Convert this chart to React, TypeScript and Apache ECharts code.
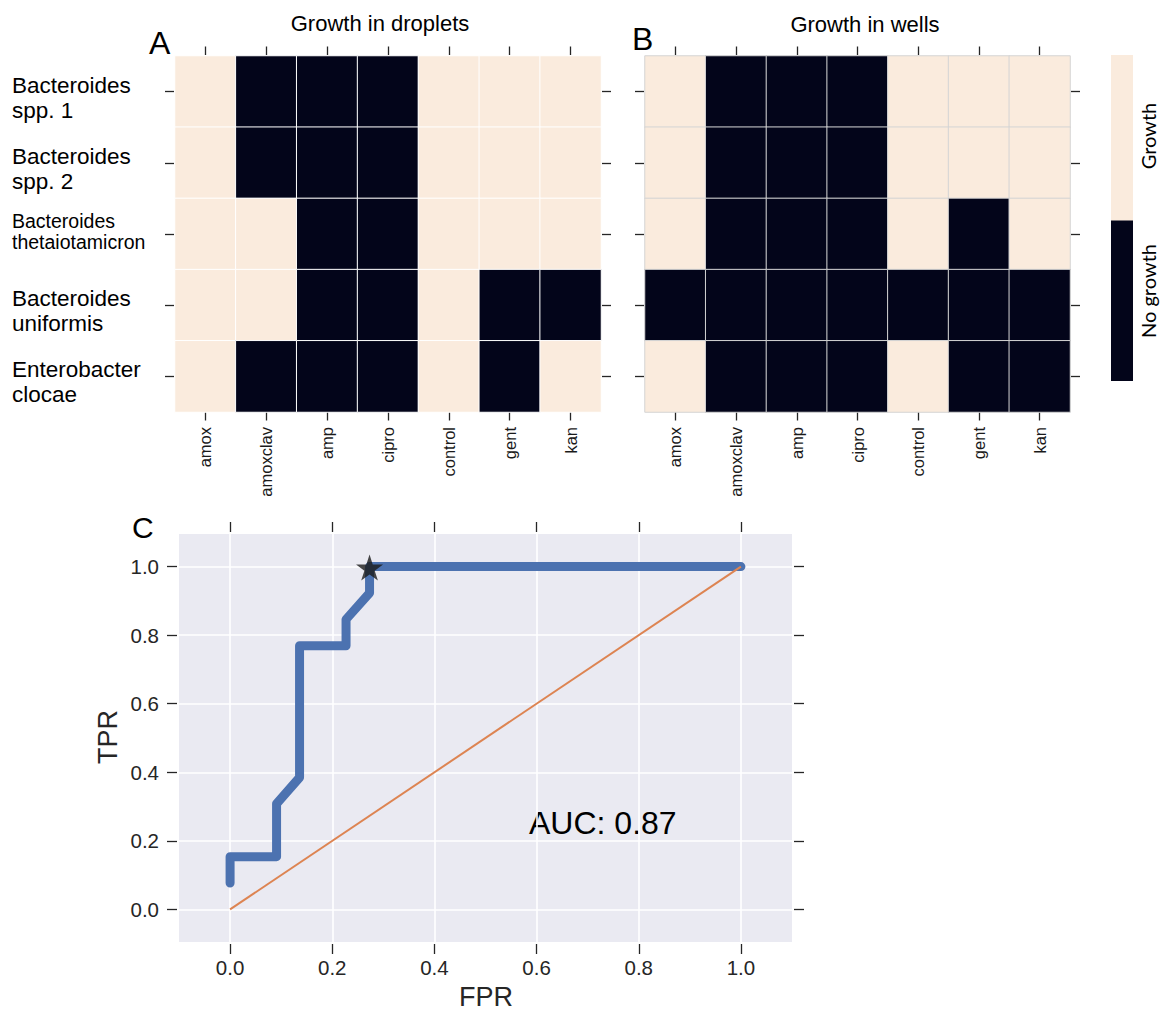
import React, { useEffect, useRef } from 'react';
import * as echarts from 'echarts';

// ---------------- data ----------------
const antibiotics = ['amox', 'amoxclav', 'amp', 'cipro', 'control', 'gent', 'kan'];
const speciesNames = [
  'Bacteroides\nspp. 1',
  'Bacteroides\nspp. 2',
  'Bacteroides\nthetaiotamicron',
  'Bacteroides\nuniformis',
  'Enterobacter\nclocae',
];
const speciesSmallLabel = [false, false, true, false, false];
// 1 = growth, 0 = no growth ; rows follow speciesNames, columns follow antibiotics
const dropletGrowth = [
  [1, 0, 0, 0, 1, 1, 1],
  [1, 0, 0, 0, 1, 1, 1],
  [1, 1, 0, 0, 1, 1, 1],
  [1, 1, 0, 0, 1, 0, 0],
  [1, 0, 0, 0, 1, 0, 1],
];
const wellGrowth = [
  [1, 0, 0, 0, 1, 1, 1],
  [1, 0, 0, 0, 1, 1, 1],
  [1, 0, 0, 0, 1, 0, 1],
  [0, 0, 0, 0, 0, 0, 0],
  [1, 0, 0, 0, 1, 0, 0],
];
const growthLegend = ['Growth', 'No growth'];
const panelTitles = ['Growth in droplets', 'Growth in wells'];
const panelLetters = ['A', 'B', 'C'];

const fprValues = [0, 0, 0.091, 0.091, 0.136, 0.136, 0.227, 0.227, 0.273, 0.273, 1.0];
const tprValues = [0.077, 0.154, 0.154, 0.308, 0.385, 0.769, 0.769, 0.846, 0.923, 1.0, 1.0];
const chanceFpr = [0, 1];
const chanceTpr = [0, 1];
const bestPoint = [0.273, 1.0];
const aucValue = 0.87;
const rocTicks = [0, 0.2, 0.4, 0.6, 0.8, 1.0];

// ---------------- styles ----------------
const cream = '#FAEBDD';
const ink = '#03051A';
const blue = '#4C72B0';
const orange = '#DD8452';
const tickColor = '#262626';
const FONT = "'Liberation Sans', Arial, sans-serif";

const heatA = { left: 175, top: 56, width: 426, height: 356 };
const heatB = { left: 645, top: 56, width: 425, height: 356 };
const roc = { left: 179, top: 534, width: 613, height: 408 };

const heatData = (m: number[][]) => {
  const d: number[][] = [];
  m.forEach((row, i) => row.forEach((v, j) => d.push([j, i, v])));
  return d;
};

const starPath =
  'path://M0,-1 L0.2245,-0.309 L0.951,-0.309 L0.363,0.118 L0.588,0.809 L0,0.382 L-0.588,0.809 L-0.363,0.118 L-0.951,-0.309 L-0.2245,-0.309 Z';

const tickStyle = { color: tickColor, width: 1.3 };

const catX = (gridIndex: number, position: 'top' | 'bottom') => ({
  type: 'category',
  gridIndex,
  position,
  data: antibiotics,
  offset: position === 'top' ? 1 : 0,
  axisLine: { show: false, onZero: false },
  splitLine: { show: false },
  axisTick: { show: true, interval: 0, alignWithLabel: true, length: 8.5, lineStyle: tickStyle },
  axisLabel:
    position === 'bottom'
      ? { interval: 0, rotate: 90, fontSize: 16.5, color: '#1a1a1a', margin: 15, fontFamily: FONT }
      : { show: false, interval: 0 },
});

const catY = (gridIndex: number, position: 'left' | 'right') => ({
  type: 'category',
  gridIndex,
  position,
  inverse: true,
  data: speciesNames,
  offset: 1,
  axisLine: { show: false, onZero: false },
  splitLine: { show: false },
  axisTick: { show: true, interval: 0, alignWithLabel: true, length: 9, lineStyle: tickStyle },
  axisLabel: { show: false, interval: 0 },
});

const valAxisCommon = {
  type: 'value',
  gridIndex: 2,
  axisLine: { show: false, onZero: false },
  axisTick: { show: true, length: 10, lineStyle: tickStyle, customValues: rocTicks },
};

const rocX = (position: 'top' | 'bottom') => ({
  ...valAxisCommon,
  position,
  min: -0.1,
  max: 1.1,
  offset: 2,
  splitLine: position === 'bottom' ? { show: true, lineStyle: { color: '#ffffff', width: 1.6 } } : { show: false },
  axisLabel:
    position === 'bottom'
      ? {
          customValues: rocTicks,
          formatter: (v: number) => v.toFixed(1),
          fontSize: 20.5,
          color: tickColor,
          margin: 13,
          fontFamily: FONT,
        }
      : { show: false },
});

const rocY = (position: 'left' | 'right') => ({
  ...valAxisCommon,
  position,
  min: -0.095,
  max: 1.095,
  offset: 2,
  splitLine: position === 'left' ? { show: true, lineStyle: { color: '#ffffff', width: 1.6 } } : { show: false },
  axisLabel:
    position === 'left'
      ? {
          customValues: rocTicks,
          formatter: (v: number) => v.toFixed(1),
          fontSize: 20.5,
          color: tickColor,
          margin: 18,
          fontFamily: FONT,
        }
      : { show: false },
});

const rowH = heatA.height / speciesNames.length;

const speciesGraphics = speciesNames.map((name, i) => ({
  type: 'text',
  x: 12,
  y: heatA.top + (i + 0.5) * rowH + (speciesSmallLabel[i] ? -3 : 6),
  style: {
    text: name,
    fontSize: speciesSmallLabel[i] ? 19.5 : 22.5,
    lineHeight: speciesSmallLabel[i] ? 21 : 25,
    fontFamily: FONT,
    fill: '#000',
    align: 'left',
    verticalAlign: 'middle',
  },
}));

const option: any = {
  animation: false,
  backgroundColor: '#ffffff',
  grid: [
    { ...heatA, containLabel: false },
    { ...heatB, containLabel: false },
    { ...roc, containLabel: false, show: true, backgroundColor: '#EAEAF2', borderWidth: 0 },
  ],
  xAxis: [catX(0, 'bottom'), catX(0, 'top'), catX(1, 'bottom'), catX(1, 'top'), rocX('bottom'), rocX('top')],
  yAxis: [catY(0, 'left'), catY(0, 'right'), catY(1, 'left'), catY(1, 'right'), rocY('left'), rocY('right')],
  visualMap: {
    type: 'piecewise',
    show: false,
    seriesIndex: [0, 1],
    dimension: 2,
    pieces: [
      { value: 0, color: ink },
      { value: 1, color: cream },
    ],
  },
  series: [
    {
      type: 'heatmap',
      xAxisIndex: 0,
      yAxisIndex: 0,
      data: heatData(dropletGrowth),
      itemStyle: { borderColor: '#ffffff', borderWidth: 1 },
      emphasis: { disabled: true },
      silent: true,
    },
    {
      type: 'heatmap',
      xAxisIndex: 2,
      yAxisIndex: 2,
      data: heatData(wellGrowth),
      itemStyle: { borderColor: '#d4d4d4', borderWidth: 1 },
      emphasis: { disabled: true },
      silent: true,
    },
    {
      type: 'line',
      xAxisIndex: 4,
      yAxisIndex: 4,
      data: fprValues.map((f, i) => [f, tprValues[i]]),
      showSymbol: false,
      symbol: 'none',
      lineStyle: { color: blue, width: 9, cap: 'round', join: 'round' },
      silent: true,
      z: 2,
    },
    {
      type: 'line',
      xAxisIndex: 4,
      yAxisIndex: 4,
      data: chanceFpr.map((f, i) => [f, chanceTpr[i]]),
      showSymbol: false,
      symbol: 'none',
      lineStyle: { color: orange, width: 2 },
      silent: true,
      z: 3,
    },
    {
      type: 'scatter',
      xAxisIndex: 4,
      yAxisIndex: 4,
      data: [bestPoint],
      symbol: starPath,
      symbolSize: [27, 26],
      symbolOffset: [0, 1],
      itemStyle: { color: '#1a1a1a' },
      silent: true,
      z: 4,
    },
  ],
  graphic: [
    {
      type: 'text',
      x: 380,
      y: 23,
      style: { text: panelTitles[0], fontSize: 22, fontFamily: FONT, fill: '#000', align: 'center', verticalAlign: 'middle' },
    },
    {
      type: 'text',
      x: 865,
      y: 24,
      style: { text: panelTitles[1], fontSize: 22, fontFamily: FONT, fill: '#000', align: 'center', verticalAlign: 'middle' },
    },
    {
      type: 'text',
      x: 149,
      y: 43,
      style: { text: panelLetters[0], fontSize: 32, fontFamily: FONT, fill: '#000', align: 'left', verticalAlign: 'middle' },
    },
    {
      type: 'text',
      x: 632,
      y: 39,
      style: { text: panelLetters[1], fontSize: 32, fontFamily: FONT, fill: '#000', align: 'left', verticalAlign: 'middle' },
    },
    {
      type: 'text',
      x: 132,
      y: 527,
      style: { text: panelLetters[2], fontSize: 30, fontFamily: FONT, fill: '#000', align: 'left', verticalAlign: 'middle' },
    },
    ...speciesGraphics,
    // colour bar
    { type: 'rect', shape: { x: 1111, y: 55, width: 22, height: 166 }, style: { fill: cream }, silent: true },
    { type: 'rect', shape: { x: 1111, y: 220.5, width: 22, height: 160.5 }, style: { fill: ink }, silent: true },
    {
      type: 'text',
      x: 1148,
      y: 136,
      rotation: Math.PI / 2,
      style: { text: growthLegend[0], fontSize: 20, fontFamily: 'Lato, sans-serif', fill: '#000', align: 'center', verticalAlign: 'middle' },
    },
    {
      type: 'text',
      x: 1148,
      y: 291,
      rotation: Math.PI / 2,
      style: { text: growthLegend[1], fontSize: 20, fontFamily: 'Lato, sans-serif', fill: '#000', align: 'center', verticalAlign: 'middle' },
    },
    // ROC annotations
    {
      type: 'text',
      x: 486,
      y: 997,
      style: { text: 'FPR', fontSize: 27, fontFamily: FONT, fill: tickColor, align: 'center', verticalAlign: 'middle' },
    },
    {
      type: 'text',
      x: 108,
      y: 737,
      rotation: Math.PI / 2,
      style: { text: 'TPR', fontSize: 27, fontFamily: FONT, fill: tickColor, align: 'center', verticalAlign: 'middle' },
    },
    {
      type: 'text',
      x: 529,
      y: 823,
      style: { text: 'AUC: ' + aucValue.toFixed(2), fontSize: 32, fontFamily: FONT, fill: '#000', align: 'left', verticalAlign: 'middle' },
    },
  ],
};

export default function App() {
  const ref = useRef<HTMLDivElement>(null);
  useEffect(() => {
    const chart = echarts.init(ref.current!, null, { renderer: 'svg' });
    chart.setOption(option);
    return () => chart.dispose();
  }, []);
  return (
    <div
      ref={ref}
      style={{ position: 'fixed', left: 0, top: 0, width: 1166, height: 1011, background: '#ffffff' }}
    />
  );
}
